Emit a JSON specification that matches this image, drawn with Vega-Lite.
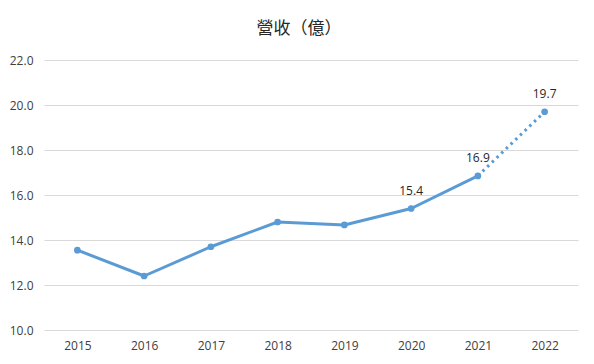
{
  "$schema": "https://vega.github.io/schema/vega-lite/v6.json",
  "width": 534,
  "height": 270,
  "autosize": {"type": "none"},
  "padding": {"left": 44, "top": 60, "right": 16, "bottom": 34},
  "background": "white",
  "title": {
    "text": "營收（億）",
    "font": "Noto Sans CJK TC",
    "fontSize": 17,
    "fontWeight": "normal",
    "color": "#262626",
    "offset": 16,
    "dx": -12
  },
  "config": {
    "view": {"stroke": null},
    "axis": {
      "labelFont": "Open Sans",
      "labelFontSize": 12,
      "labelColor": "#404040",
      "domain": false,
      "ticks": false,
      "title": null
    }
  },
  "data": {
    "values": [
      {"year": "2015", "value": 13.55, "label": ""},
      {"year": "2016", "value": 12.4, "label": ""},
      {"year": "2017", "value": 13.7, "label": ""},
      {"year": "2018", "value": 14.8, "label": ""},
      {"year": "2019", "value": 14.67, "label": ""},
      {"year": "2020", "value": 15.4, "label": "15.4"},
      {"year": "2021", "value": 16.85, "label": "16.9"},
      {"year": "2022", "value": 19.7, "label": "19.7"}
    ]
  },
  "encoding": {
    "x": {
      "field": "year",
      "type": "ordinal",
      "scale": {"type": "point", "padding": 0.5},
      "axis": {"labelAngle": 0, "grid": false, "labelPadding": 10}
    },
    "y": {
      "field": "value",
      "type": "quantitative",
      "scale": {"domain": [10, 22], "nice": false, "zero": false},
      "axis": {"values": [10, 12, 14, 16, 18, 20, 22], "format": ".1f", "gridColor": "#d9d9d9", "gridWidth": 1, "labelPadding": 11}
    }
  },
  "layer": [
    {
      "transform": [{"filter": "datum.year <= '2021'"}],
      "mark": {"type": "line", "color": "#5B9BD5", "strokeWidth": 3, "strokeJoin": "round", "strokeCap": "round"}
    },
    {
      "transform": [{"filter": "datum.year >= '2021'"}],
      "mark": {"type": "line", "color": "#5B9BD5", "strokeWidth": 3, "strokeDash": [2.5, 4]}
    },
    {
      "mark": {"type": "circle", "color": "#5B9BD5", "opacity": 1, "size": 45}
    },
    {
      "mark": {"type": "text", "dy": -18, "font": "Open Sans", "fontSize": 12, "color": "#262626"},
      "encoding": {"text": {"field": "label"}}
    }
  ]
}
